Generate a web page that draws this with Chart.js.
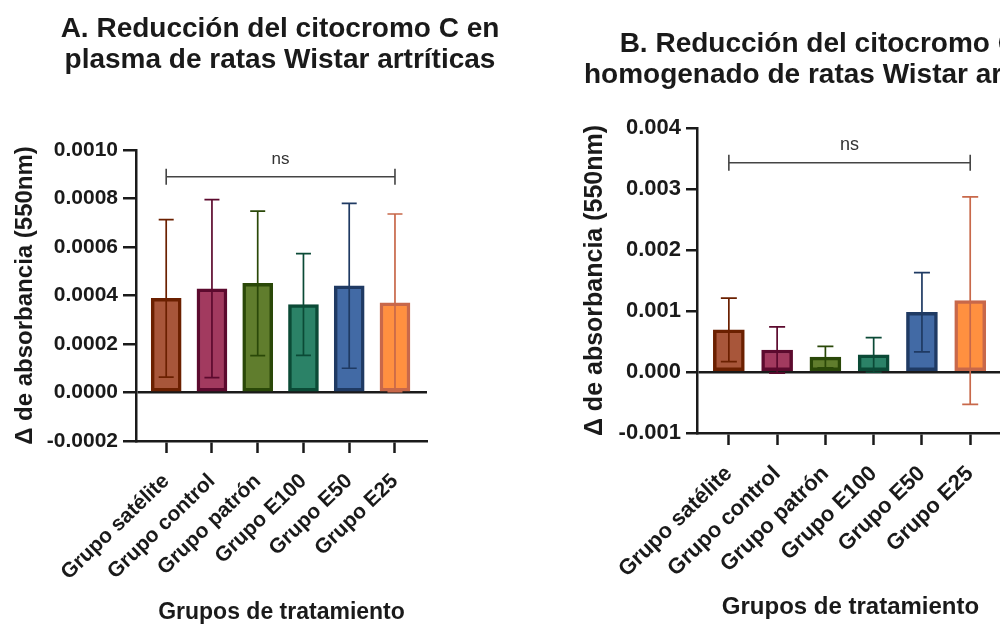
<!DOCTYPE html>
<html>
<head>
<meta charset="utf-8">
<script src="https://cdn.jsdelivr.net/npm/chart.js@4.4.1/dist/chart.umd.min.js"></script>
<style>
  html, body { margin: 0; padding: 0; background: #fff; }
  body { width: 1000px; height: 626px; overflow: hidden; position: relative; }
  canvas { position: absolute; top: 0; }
  #chartA { left: 0; }
  #chartB { left: 520px; }
</style>
</head>
<body>
<canvas id="chartA" width="520" height="626"></canvas>
<canvas id="chartB" width="560" height="626"></canvas>
<script>
// Treatment groups (shared by both panels)
const categories = ['Grupo satélite', 'Grupo control', 'Grupo patrón', 'Grupo E100', 'Grupo E50', 'Grupo E25'];

// Panel A: plasma – mean Δ absorbance and standard deviation
const plasmaMean = [0.000388, 0.000428, 0.000450, 0.000363, 0.000440, 0.000370];
const plasmaSD   = [0.000325, 0.000367, 0.000298, 0.000210, 0.000340, 0.000366];
const plasmaTicks = [-0.0002, 0, 0.0002, 0.0004, 0.0006, 0.0008, 0.0010];
const plasmaBracket = 0.00089;

// Panel B: tissue homogenate – mean Δ absorbance and standard deviation
const homogMean = [0.00069, 0.00036, 0.000243, 0.00028, 0.00098, 0.00117];
const homogSD   = [0.00052, 0.00038, 0.000177, 0.000284, 0.00065, 0.0017];
const homogTicks = [-0.001, 0, 0.001, 0.002, 0.003, 0.004];
const homogBracket = 0.00343;

const fillColors = ['#a8563a', '#a23a5f', '#607d2d', '#2b8267', '#426aa5', '#ff9040'];
const edgeColors = ['#6b2000', '#5c0a2e', '#2a4808', '#0b4a36', '#1f3a63', '#c8684a'];

const FONT = '"Liberation Sans", Arial, Helvetica, sans-serif';
const INK = '#1a1a1a';

// Two-line panel heading, centred on a given x
const panelTitle = {
  id: 'panelTitle',
  afterDraw(chart, args, opts) {
    const ctx = chart.ctx;
    ctx.save();
    ctx.fillStyle = INK;
    ctx.font = `bold ${opts.size}px ${FONT}`;
    ctx.textAlign = 'center';
    ctx.textBaseline = 'alphabetic';
    opts.lines.forEach((t, i) => ctx.fillText(t, opts.x, opts.baselines[i]));
    ctx.restore();
  }
};

// Mean ± SD whiskers with caps on each bar
const errorBars = {
  id: 'errorBars',
  afterDatasetsDraw(chart, args, opts) {
    const ctx = chart.ctx;
    const y = chart.scales.y;
    const meta = chart.getDatasetMeta(0);
    ctx.save();
    ctx.lineWidth = 1.7;
    meta.data.forEach((bar, i) => {
      const hi = y.getPixelForValue(opts.means[i] + opts.sds[i]);
      const lo = y.getPixelForValue(opts.means[i] - opts.sds[i]);
      ctx.strokeStyle = edgeColors[i];
      ctx.beginPath();
      ctx.moveTo(bar.x, hi); ctx.lineTo(bar.x, lo);
      ctx.moveTo(bar.x - opts.cap, hi); ctx.lineTo(bar.x + opts.cap, hi);
      ctx.moveTo(bar.x - opts.cap, lo); ctx.lineTo(bar.x + opts.cap, lo);
      ctx.stroke();
    });
    ctx.restore();
  }
};

// "ns" comparison bracket spanning first to last group
const bracket = {
  id: 'bracket',
  afterDatasetsDraw(chart, args, opts) {
    const ctx = chart.ctx;
    const xs = chart.scales.x, ys = chart.scales.y;
    const x0 = xs.getPixelForValue(0), x1 = xs.getPixelForValue(categories.length - 1);
    const yy = ys.getPixelForValue(opts.level);
    ctx.save();
    ctx.strokeStyle = '#444';
    ctx.lineWidth = 1.6;
    ctx.beginPath();
    ctx.moveTo(x0, yy); ctx.lineTo(x1, yy);
    ctx.moveTo(x0, yy - 8); ctx.lineTo(x0, yy + 8);
    ctx.moveTo(x1, yy - 8); ctx.lineTo(x1, yy + 8);
    ctx.stroke();
    ctx.fillStyle = '#333';
    ctx.font = `${opts.size}px ${FONT}`;
    ctx.textAlign = 'center';
    ctx.textBaseline = 'alphabetic';
    ctx.fillText(opts.text, (x0 + x1) / 2, yy - 13);
    ctx.restore();
  }
};

function panel(id, o) {
  return new Chart(document.getElementById(id), {
    type: 'bar',
    data: {
      datasets: [{
        data: o.means.map((m, i) => ({ x: i, y: m })),
        backgroundColor: fillColors,
        borderColor: edgeColors,
        borderWidth: 3.5,
        borderSkipped: false,
        barThickness: o.barWidth
      }]
    },
    options: {
      responsive: false,
      animation: false,
      events: [],
      layout: { padding: { top: o.top, right: o.padRight, left: 0, bottom: 0 } },
      plugins: {
        legend: { display: false },
        tooltip: { enabled: false },
        panelTitle: o.title,
        errorBars: { means: o.means, sds: o.sds, cap: o.cap },
        bracket: { level: o.bracket, text: 'ns', size: o.nsSize }
      },
      scales: {
        x: {
          type: 'linear',
          offset: false,
          min: -0.66,
          max: 5.7,
          afterBuildTicks: s => { s.ticks = categories.map((c, i) => ({ value: i })); },
          afterFit: s => { s.height = o.xHeight; },
          ticks: {
            autoSkip: false,
            minRotation: 44,
            maxRotation: 44,
            padding: o.xTickPad,
            color: INK,
            font: { family: FONT, size: o.xTickSize, weight: 'bold' },
            callback: v => categories[v]
          },
          grid: { offset: false, drawOnChartArea: false, drawTicks: true, tickLength: 12, tickWidth: 2.5, tickColor: INK },
          border: { display: true, color: INK, width: 2.5 },
          title: {
            display: true,
            text: 'Grupos de tratamiento',
            color: INK,
            font: { family: FONT, size: o.xTitleSize, weight: 'bold' },
            padding: { top: 0, bottom: o.xTitlePad }
          }
        },
        y: {
          min: o.yTicks[0],
          max: o.yTicks[o.yTicks.length - 1],
          afterBuildTicks: s => { s.ticks = o.yTicks.map(v => ({ value: v })); },
          afterFit: s => { s.width = o.yWidth; },
          ticks: {
            padding: 5,
            color: INK,
            font: { family: FONT, size: o.yTickSize, weight: 'bold' },
            callback: v => Number(v).toFixed(o.decimals)
          },
          grid: {
            color: c => (c.tick && c.tick.value === 0) ? INK : 'rgba(0,0,0,0)',
            lineWidth: 2.5,
            drawTicks: true,
            tickLength: o.yTickLen,
            tickWidth: 2.5,
            tickColor: INK
          },
          border: { display: true, color: INK, width: 2.5 },
          title: {
            display: true,
            text: 'Δ de absorbancia (550nm)',
            color: INK,
            font: { family: FONT, size: o.yTitleSize, weight: 'bold' },
            padding: { top: o.yTitlePad, bottom: 0 }
          }
        }
      }
    },
    plugins: [panelTitle, errorBars, bracket]
  });
}

panel('chartA', {
  means: plasmaMean, sds: plasmaSD, yTicks: plasmaTicks, bracket: plasmaBracket, decimals: 4,
  top: 150, padRight: 93, xHeight: 185, yWidth: 136, barWidth: 30, cap: 7.5, nsSize: 17,
  xTickSize: 21, xTickPad: 16, xTitleSize: 23, xTitlePad: 0,
  yTickSize: 21, yTickLen: 13, yTitleSize: 24, yTitlePad: 11,
  title: { lines: ['A. Reducción del citocromo C en', 'plasma de ratas Wistar artríticas'], x: 280, baselines: [37, 68], size: 28 }
});

panel('chartB', {
  means: homogMean, sds: homogSD, yTicks: homogTicks, bracket: homogBracket, decimals: 3,
  top: 128, padRight: 76, xHeight: 193, yWidth: 177, barWidth: 31, cap: 8, nsSize: 18,
  xTickSize: 22, xTickPad: 16, xTitleSize: 24, xTitlePad: 4,
  yTickSize: 22, yTickLen: 11, yTitleSize: 25, yTitlePad: 60,
  title: { lines: ['B. Reducción del citocromo C en', 'homogenado de ratas Wistar artríticas'], x: 319, baselines: [52, 83], size: 28 }
});
</script>
</body>
</html>
